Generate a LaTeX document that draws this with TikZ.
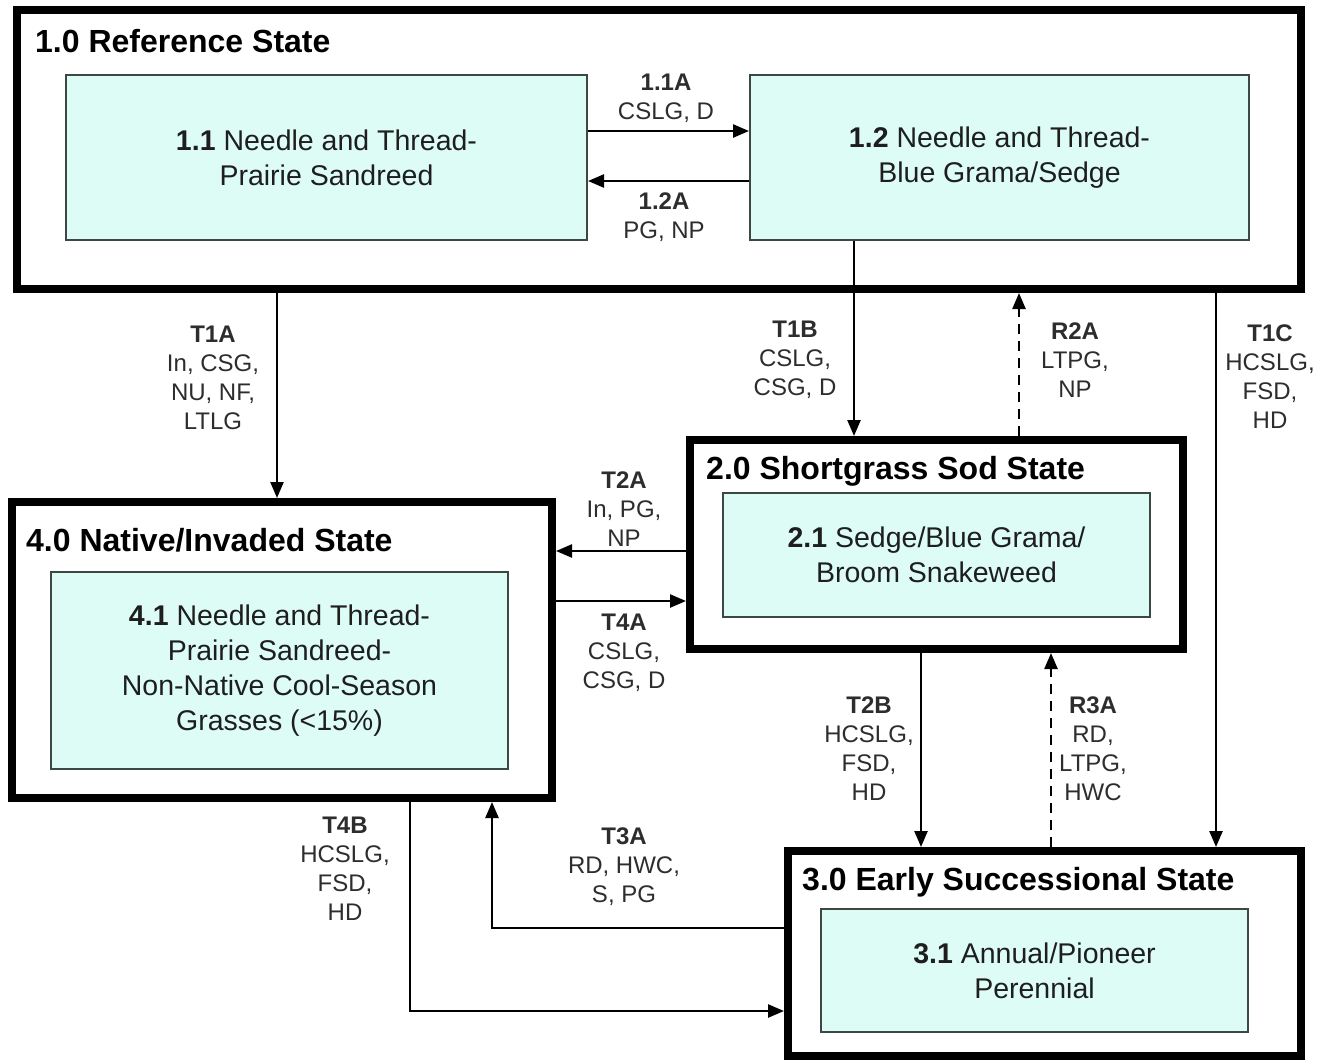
\documentclass[tikz,border=0pt]{standalone}
\usepackage{fontspec}
\setmainfont{Liberation Sans}
\usetikzlibrary{arrows.meta,calc}
\definecolor{boxfill}{RGB}{222,252,246}
\definecolor{boxline}{RGB}{60,72,68}
\definecolor{txt}{RGB}{30,30,30}
\definecolor{lbl}{RGB}{45,45,45}
\tikzset{
  statebox/.style={draw=black,line width=8pt,inner sep=0pt,minimum width=#1},
  phase/.style={draw=boxline,line width=2pt,fill=boxfill,inner sep=0pt,align=center,text=txt,
    font=\fontsize{28.5}{35}\selectfont},
  stitle/.style={anchor=west,inner sep=0pt,text=black,font=\fontsize{32}{36}\selectfont\bfseries},
  lab/.style={align=center,inner sep=0pt,text=lbl,font=\fontsize{24}{29}\selectfont},
  arr/.style={line width=2.4pt,-{Triangle[length=16pt,width=13pt]}},
  darr/.style={arr,dash pattern=on 10pt off 7pt},
}
\begin{document}
\begin{tikzpicture}[x=1pt,y=-1pt]
\useasboundingbox (0,0) rectangle (1329,1061);
\fill[white] (0,0) rectangle (1329,1061);
% state boxes
\node[statebox=1284pt,minimum height=279pt] (s1) at (659,149.5) {};
\node[statebox=493pt,minimum height=209pt] (s2) at (936.5,544.5) {};
\node[statebox=540pt,minimum height=296pt] (s4) at (282,650) {};
\node[statebox=513pt,minimum height=205pt] (s3) at (1044.5,953.5) {};
% titles
\node[stitle] (t1) at (35,41) {1.0 Reference State};
\node[stitle] (t2) at (706,471) {2.0 Shortgrass Sod State};
\node[stitle] (t4) at (26,540) {4.0 Native/Invaded State};
\node[stitle] (t3) at (802,882) {3.0 Early Successional State};
% community phases
\node[phase,minimum width=521pt,minimum height=165pt] (b11) at (326.5,157.5)
  {\textbf{1.1} Needle and Thread-\\Prairie Sandreed};
\node[phase,minimum width=499pt,minimum height=165pt] (b12) at (999.5,157.5)
  {\textbf{1.2} Needle and Thread-\\Blue Grama/Sedge};
\node[phase,minimum width=427pt,minimum height=124pt] (b21) at (936.5,555)
  {\textbf{2.1} Sedge/Blue Grama/\\Broom Snakeweed};
\node[phase,minimum width=457pt,minimum height=197pt] (b41) at (279.5,670.5)
  {\textbf{4.1} Needle and Thread-\\Prairie Sandreed-\\Non-Native Cool-Season\\Grasses (<15\%)};
\node[phase,minimum width=427pt,minimum height=123pt] (b31) at (1034.5,970.5)
  {\textbf{3.1} Annual/Pioneer\\Perennial};
% connectors
\draw[arr] ([yshift=26.5pt]b11.east) -- ([yshift=26.5pt]b12.west);
\draw[arr] ([yshift=-23.5pt]b12.west) -- ([yshift=-23.5pt]b11.east);
\draw[arr] (277,0 |- s1.south) -- (277,0 |- s4.north);
\draw[arr] (854,0 |- b12.south) -- (854,0 |- s2.north);
\draw[darr] (1019,0 |- s2.north) -- (1019,0 |- s1.south);
\draw[arr] (1216,0 |- s1.south) -- (1216,0 |- s3.north);
\draw[arr] (s2.west |- 0,551) -- (s4.east |- 0,551);
\draw[arr] (s4.east |- 0,601) -- (s2.west |- 0,601);
\draw[arr] (921,0 |- s2.south) -- (921,0 |- s3.north);
\draw[darr] (1051,0 |- s3.north) -- (1051,0 |- s2.south);
\draw[arr] (s3.west |- 0,928) -| (492,0 |- s4.south);
\draw[arr] (410,0 |- s4.south) |- (s3.west |- 0,1011);
% labels
\node[lab] (l11a) at (666,98) {\textbf{1.1A}\\CSLG, D};
\node[lab] (l12a) at (664,217) {\textbf{1.2A}\\PG, NP};
\node[lab] (lt1a) at (213,378) {\textbf{T1A}\\In, CSG,\\NU, NF,\\LTLG};
\node[lab] (lt1b) at (795,360) {\textbf{T1B}\\CSLG,\\CSG, D};
\node[lab] (lr2a) at (1075,360) {\textbf{R2A}\\LTPG,\\NP};
\node[lab] (lt1c) at (1270,377) {\textbf{T1C}\\HCSLG,\\FSD,\\HD};
\node[lab] (lt2a) at (624,509) {\textbf{T2A}\\In, PG,\\NP};
\node[lab] (lt4a) at (624,653) {\textbf{T4A}\\CSLG,\\CSG, D};
\node[lab] (lt2b) at (869,749) {\textbf{T2B}\\HCSLG,\\FSD,\\HD};
\node[lab] (lr3a) at (1093,749) {\textbf{R3A}\\RD,\\LTPG,\\HWC};
\node[lab] (lt3a) at (624,867) {\textbf{T3A}\\RD, HWC,\\S, PG};
\node[lab] (lt4b) at (345,869) {\textbf{T4B}\\HCSLG,\\FSD,\\HD};
\end{tikzpicture}
\end{document}
